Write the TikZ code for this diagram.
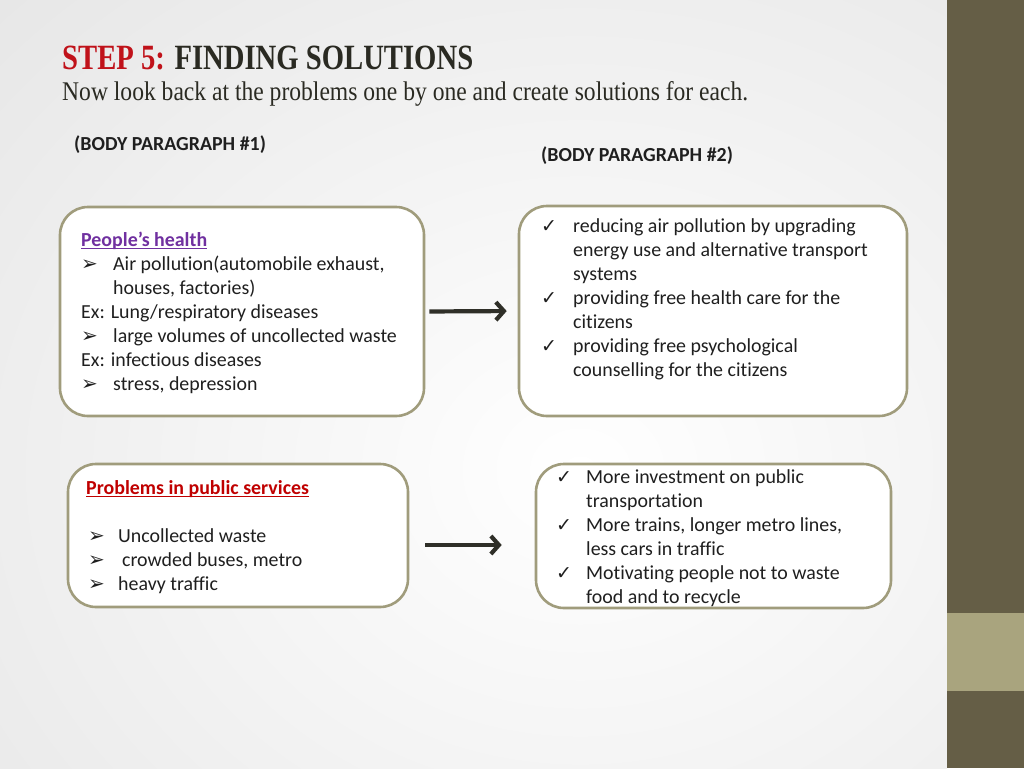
\documentclass[tikz,border=0pt]{standalone}
\usepackage{fontspec}
\usepackage{graphicx}
\setmainfont[Ligatures=NoCommon]{Carlito}
\newfontfamily\symfont{DejaVu Sans}
\newfontfamily\titlefont{Liberation Serif}
\usetikzlibrary{arrows.meta}
\definecolor{stepred}{HTML}{C0121A}
\definecolor{titledark}{HTML}{2A2A22}
\definecolor{textdark}{HTML}{1F1F1F}
\definecolor{hpurple}{HTML}{7030A0}
\definecolor{hred}{HTML}{C00000}
\definecolor{boxline}{HTML}{A09C7C}
\definecolor{arrowdark}{HTML}{2F2F28}
\definecolor{sidedark}{HTML}{655E46}
\definecolor{sidelight}{HTML}{A9A47E}
\newcommand\mybul{{\symfont\fontsize{20}{20}\selectfont ➢}}
\newcommand\mychk{{\symfont\fontsize{19}{19}\selectfont ✓}}
\newcommand\myul[1]{\setbox0=\hbox{#1}\rlap{\rule[-3pt]{\wd0}{1.3pt}}\box0}
\begin{document}
\begin{tikzpicture}[x=1pt,y=-1pt,
  txt/.style={anchor=base west, align=left, text=textdark, inner sep=0pt, font=\fontsize{19.9}{24}\selectfont},
  box/.style={draw=boxline, line width=2.6pt, fill=white, rounded corners=28pt, inner sep=0pt},
  conn/.style={draw=arrowdark, line width=4.2pt, -{Straight Barb[length=8pt,width=18pt]}}]
\useasboundingbox (0,0) rectangle (1024,768);
% background
\begin{scope}
\clip (0,0) rectangle (947,768);
\shade[inner color=white, outer color=gray!28] (-620,-530) rectangle (1780,1470);
\end{scope}
\fill[sidedark] (947,0) rectangle (1024,768);
\fill[sidelight] (947,613) rectangle (1024,691);
% title
\node[anchor=base west, inner sep=0pt] (title) at (62,69)
  {\resizebox{411pt}{23.5pt}{\titlefont\bfseries\textcolor{stepred}{STEP 5:} \textcolor{titledark}{FINDING SOLUTIONS}}};
\node[anchor=base west, inner sep=0pt] (subtitle) at (62,100)
  {\resizebox{686pt}{19pt}{\titlefont\textcolor{titledark}{Now look back at the problems one by one and create solutions for each.}}};
% headings
\node[txt, font=\fontsize{19.9}{24}\selectfont\bfseries] (h1) at (74,150) {(BODY PARAGRAPH \#1)};
\node[txt, font=\fontsize{19.9}{24}\selectfont\bfseries] (h2) at (541,161) {(BODY PARAGRAPH \#2)};
% boxes
\node[box, minimum width=364pt, minimum height=209pt] (b1) at (242,311.5) {};
\node[box, minimum width=388pt, minimum height=210pt] (b2) at (713,311) {};
\node[box, minimum width=340pt, minimum height=143pt] (b3) at (238,535.5) {};
\node[box, minimum width=355pt, minimum height=144pt] (b4) at (713.5,536) {};
% box texts
\node[txt] (t1) at (81,246) {\begin{tabular}[t]{@{}p{32pt}@{}l@{}}
\multicolumn{2}{@{}l@{}}{\textcolor{hpurple}{\bfseries\myul{People’s health}}}\\
\mybul & Air pollution(automobile exhaust,\\
 & houses, factories)\\
\multicolumn{2}{@{}l@{}}{Ex: Lung/respiratory diseases}\\
\mybul & large volumes of uncollected waste\\
\multicolumn{2}{@{}l@{}}{Ex: infectious diseases}\\
\mybul & stress, depression
\end{tabular}};
\node[txt] (t2) at (541,232) {\begin{tabular}[t]{@{}p{32pt}@{}l@{}}
\mychk & reducing air pollution by upgrading\\
 & energy use and alternative transport\\
 & systems\\
\mychk & providing free health care for the\\
 & citizens\\
\mychk & providing free psychological\\
 & counselling for the citizens
\end{tabular}};
\node[txt] (t3) at (86,494) {\begin{tabular}[t]{@{}p{32pt}@{}l@{}}
\multicolumn{2}{@{}l@{}}{\textcolor{hred}{\bfseries\myul{Problems in public services}}}\\
 & \\
\hspace{2pt}\mybul & Uncollected waste\\
\hspace{2pt}\mybul & \hspace{4pt}crowded buses, metro\\
\hspace{2pt}\mybul & heavy traffic
\end{tabular}};
\node[txt] (t4) at (556,483) {\begin{tabular}[t]{@{}p{30pt}@{}l@{}}
\mychk & More investment on public\\
 & transportation\\
\mychk & More trains, longer metro lines,\\
 & less cars in traffic\\
\mychk & Motivating people not to waste\\
 & food and to recycle
\end{tabular}};
% connectors
\draw[conn, shorten <=4pt, shorten >=11pt] (b1.east) -- (b2.west);
\draw[conn, shorten <=16pt, shorten >=33pt] ([yshift=-9.5pt]b3.east) -- ([yshift=-9pt]b4.west);
\end{tikzpicture}
\end{document}
